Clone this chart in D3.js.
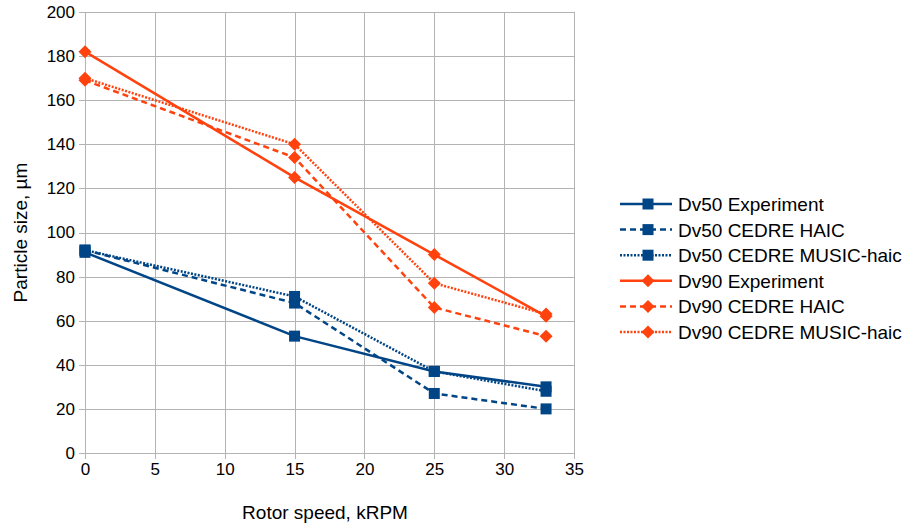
<!DOCTYPE html>
<html>
<head>
<meta charset="utf-8">
<script src="https://cdn.jsdelivr.net/npm/d3@7"></script>
<style>
  html, body { margin: 0; padding: 0; background: #fff; }
  svg { display: block; font-family: "Liberation Sans", Arial, sans-serif; }
</style>
</head>
<body>
<svg id="chart" width="911" height="527"></svg>
<script>
// Rotor speeds (kRPM) at which the droplet sizes were measured / computed
const rotorSpeed = [0, 15, 25, 33];

// Particle size values, µm
const dv50Experiment = [91, 53, 37, 30];
const dv50Haic       = [92, 68, 27, 20];
const dv50Music      = [92, 71, 37, 28];
const dv90Experiment = [182, 125, 90, 62];
const dv90Haic       = [169, 134, 66, 53];
const dv90Music      = [170, 140, 77, 63];

const seriesNames = [
  "Dv50 Experiment", "Dv50 CEDRE HAIC", "Dv50 CEDRE MUSIC-haic",
  "Dv90 Experiment", "Dv90 CEDRE HAIC", "Dv90 CEDRE MUSIC-haic"
];
const seriesValues = [dv50Experiment, dv50Haic, dv50Music, dv90Experiment, dv90Haic, dv90Music];

const xTicks = [0, 5, 10, 15, 20, 25, 30, 35];
const yTicks = [0, 20, 40, 60, 80, 100, 120, 140, 160, 180, 200];

const BLUE = "#004586", ORANGE = "#ff420e";
const styles = [
  { color: BLUE, dash: null, marker: "square" },
  { color: BLUE, dash: "6,4", marker: "square" },
  { color: BLUE, dash: "2,1.5", marker: "square" },
  { color: ORANGE, dash: null, marker: "diamond" },
  { color: ORANGE, dash: "6,4", marker: "diamond" },
  { color: ORANGE, dash: "2,1.5", marker: "diamond" }
];

const svg = d3.select("#chart");
const m = { left: 85, top: 12, right: 574, bottom: 453 };

const x = d3.scaleLinear().domain([0, 35]).range([m.left, m.right]);
const y = d3.scaleLinear().domain([0, 200]).range([m.bottom, m.top]);

// grid
const grid = svg.append("g").attr("stroke", "#b3b3b3").attr("stroke-width", 1);
xTicks.forEach(t => grid.append("line")
  .attr("x1", Math.round(x(t)) + 0.5).attr("x2", Math.round(x(t)) + 0.5)
  .attr("y1", m.top).attr("y2", m.bottom + 6));
yTicks.forEach(t => grid.append("line")
  .attr("x1", m.left - 6).attr("x2", m.right)
  .attr("y1", Math.round(y(t)) + 0.5).attr("y2", Math.round(y(t)) + 0.5));

// axes labels
const xAxis = d3.axisBottom(x).tickValues(xTicks).tickSize(0).tickPadding(10);
const yAxis = d3.axisLeft(y).tickValues(yTicks).tickSize(0).tickPadding(10);
const gx = svg.append("g").attr("transform", `translate(0,${m.bottom})`).call(xAxis);
const gy = svg.append("g").attr("transform", `translate(${m.left},0)`).call(yAxis);
[gx, gy].forEach(g => {
  g.select(".domain").remove();
  g.selectAll("text").attr("font-size", 17).attr("fill", "#000")
    .attr("font-family", "'Liberation Sans', Arial, sans-serif");
});

svg.append("text").attr("x", 325).attr("y", 519)
  .attr("text-anchor", "middle").attr("font-size", 19).text("Rotor speed, kRPM");
svg.append("text").attr("transform", `translate(27,${(m.top + m.bottom) / 2}) rotate(-90)`)
  .attr("text-anchor", "middle").attr("font-size", 19).text("Particle size, µm");

function drawMarker(g, kind, cx, cy, color) {
  if (kind === "square") {
    g.append("rect").attr("x", cx - 5.5).attr("y", cy - 5.5).attr("width", 11).attr("height", 11)
      .attr("fill", color);
  } else {
    g.append("path").attr("d", `M${cx},${cy - 6.5}L${cx + 6.5},${cy}L${cx},${cy + 6.5}L${cx - 6.5},${cy}Z`)
      .attr("fill", color);
  }
}

const line = d3.line().x((d, i) => x(rotorSpeed[i])).y(d => y(d));
const plot = svg.append("g");
seriesValues.forEach((vals, s) => {
  const st = styles[s];
  plot.append("path").datum(vals).attr("d", line)
    .attr("fill", "none").attr("stroke", st.color).attr("stroke-width", 2.5)
    .attr("stroke-dasharray", st.dash);
});
seriesValues.forEach((vals, s) => {
  const st = styles[s];
  vals.forEach((v, i) => drawMarker(plot, st.marker, x(rotorSpeed[i]), y(v), st.color));
});

// legend
const legend = svg.append("g");
const legendY = d3.scalePoint().domain(seriesNames).range([204, 332]);
seriesNames.forEach((name, s) => {
  const st = styles[s];
  const ly = legendY(name);
  legend.append("line").attr("x1", 620).attr("x2", 672).attr("y1", ly).attr("y2", ly)
    .attr("stroke", st.color).attr("stroke-width", 2.5).attr("stroke-dasharray", st.dash);
  drawMarker(legend, st.marker, 648, ly, st.color);
  legend.append("text").attr("x", 678).attr("y", ly + 7).attr("font-size", 19)
    .attr("fill", "#000").text(name);
});
</script>
</body>
</html>
